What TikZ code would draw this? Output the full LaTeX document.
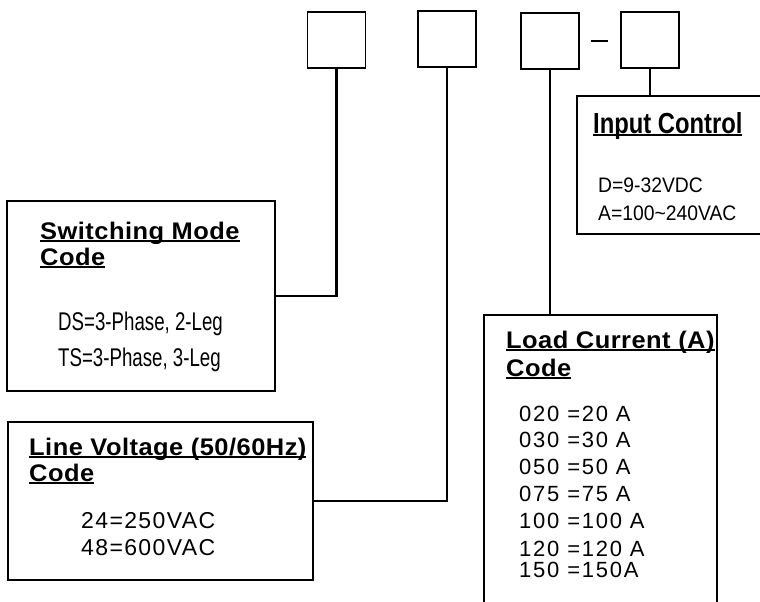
\documentclass[tikz,border=0pt]{standalone}
\usepackage{fontspec}
\setmainfont{Liberation Sans}
\newfontfamily\titlefont[LetterSpace=2,FakeStretch=1.06]{Liberation Sans}
\newfontfamily\narrowfont[FakeStretch=0.73]{Liberation Sans}
\newfontfamily\icfont[FakeStretch=0.92]{Liberation Sans}
\newfontfamily\ictitlefont[FakeStretch=0.82]{Liberation Sans}
\newfontfamily\lvfont[LetterSpace=6]{Liberation Sans}
\newfontfamily\lcfont[LetterSpace=8]{Liberation Sans}
\newcommand\ulx[1]{\setbox0=\hbox{#1}\rlap{\rule[-2.5pt]{\wd0}{1.4pt}}\box0}
\tikzset{
  small/.style={draw=black, line width=1.3pt, minimum width=58pt, minimum height=56pt, inner sep=0pt},
  bigbox/.style={draw=black, line width=2pt, inner sep=0pt},
  conn/.style={draw=black, line width=2.2pt},
  txt/.style={inner sep=0pt, anchor=base west, text=black},
}
\begin{document}
\begin{tikzpicture}[x=1pt,y=-1pt]
\clip (0,0) rectangle (760,602);
\fill[white] (0,0) rectangle (760,602);
% top code boxes
\node[small] (b1) at (336.5,40) {};
\node[small] (b2) at (447,39) {};
\node[small] (b3) at (550,41) {};
\node[small] (b4) at (650,40) {};
\node[inner sep=0pt] (dash) at (599.5,41) {\rule{17pt}{2.6pt}};
% boxes
\node[bigbox, minimum width=268pt, minimum height=190pt] (sw) at (141,296) {};
\node[bigbox, minimum width=305pt, minimum height=158pt] (lv) at (160.5,501) {};
\node[bigbox, minimum width=233pt, minimum height=320pt] (lc) at (600.5,475) {};
\node[bigbox, minimum width=200pt, minimum height=138pt] (ic) at (677,165) {};
% connectors
\draw[conn] (b1.south) |- (sw.east);
\draw[conn] (b2.south) |- (lv.east);
\draw[conn] (b3.south) -- (b3.south |- lc.north);
\draw[conn] (b4.south) -- (b4.south |- ic.north);
% switching mode texts
\node[txt] (swt1) at (40,239) {\fontsize{24}{26}\titlefont\bfseries\ulx{Switching Mode}};
\node[txt] (swt2) at (40,265) {\fontsize{24}{26}\titlefont\bfseries\ulx{Code}};
\node[txt] (sw1) at (58,330) {\fontsize{25.6}{28}\narrowfont DS=3-Phase, 2-Leg};
\node[txt] (sw2) at (58,366) {\fontsize{25.6}{28}\narrowfont TS=3-Phase, 3-Leg};
% line voltage texts
\node[txt] (lvt1) at (29,455) {\fontsize{24}{26}\titlefont\bfseries\ulx{Line Voltage (50/60Hz)}};
\node[txt] (lvt2) at (29,481) {\fontsize{24}{26}\titlefont\bfseries\ulx{Code}};
\node[txt] (lv1) at (81,528) {\fontsize{23}{26}\lvfont 24=250VAC};
\node[txt] (lv2) at (81,555) {\fontsize{23}{26}\lvfont 48=600VAC};
% load current texts
\node[txt] (lct1) at (506,348) {\fontsize{24}{26}\titlefont\bfseries\ulx{Load Current (A)}};
\node[txt] (lct2) at (506,376) {\fontsize{24}{26}\titlefont\bfseries\ulx{Code}};
\node[txt] (lc1) at (519,421) {\fontsize{22}{24}\lcfont 020 =20 A};
\node[txt] (lc2) at (519,447) {\fontsize{22}{24}\lcfont 030 =30 A};
\node[txt] (lc3) at (519,474) {\fontsize{22}{24}\lcfont 050 =50 A};
\node[txt] (lc4) at (519,501) {\fontsize{22}{24}\lcfont 075 =75 A};
\node[txt] (lc5) at (519,528) {\fontsize{22}{24}\lcfont 100 =100 A};
\node[txt] (lc6) at (519,556) {\fontsize{22}{24}\lcfont 120 =120 A};
\node[txt] (lc7) at (519,577) {\fontsize{22}{24}\lcfont 150 =150A};
% input control texts
\node[txt] (ict) at (593,133) {\fontsize{29}{32}\ictitlefont\bfseries\ulx{Input Control}};
\node[txt] (ic1) at (598,192) {\fontsize{21}{24}\icfont D=9-32VDC};
\node[txt] (ic2) at (598,220) {\fontsize{21}{24}\icfont A=100\textasciitilde 240VAC};
\end{tikzpicture}
\end{document}
